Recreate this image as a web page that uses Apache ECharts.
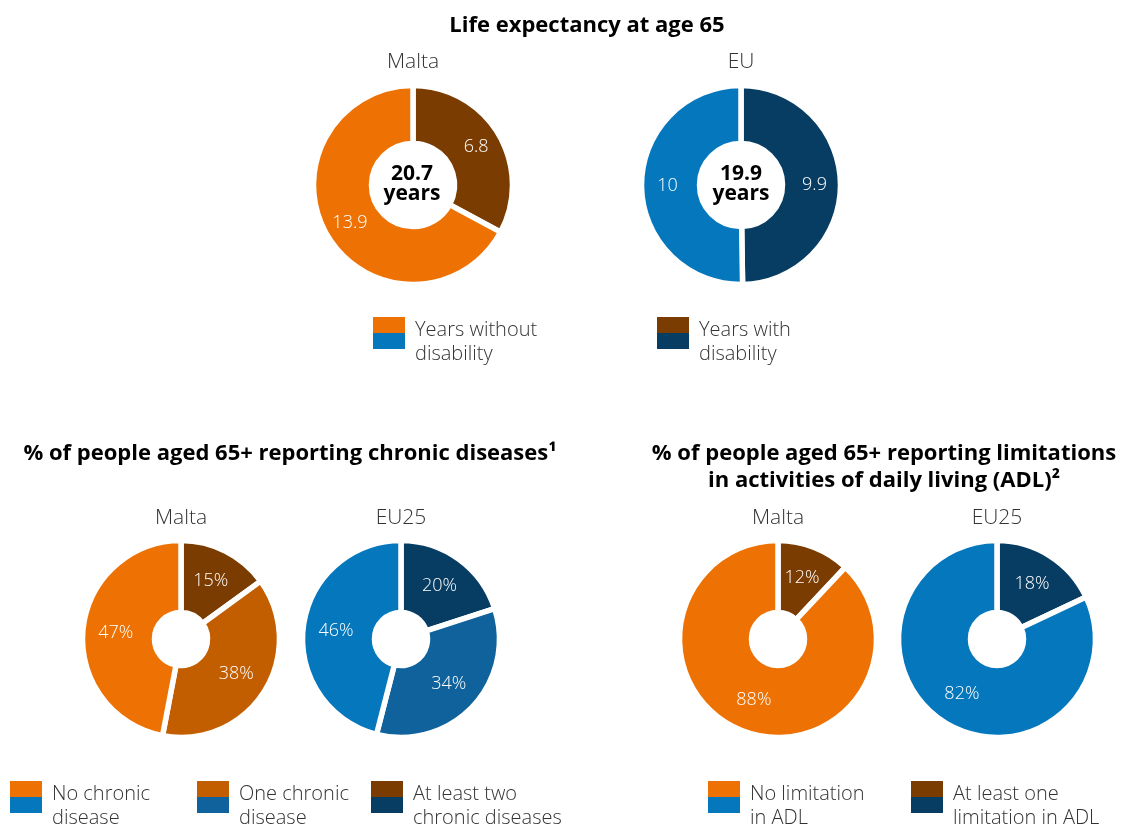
<!DOCTYPE html>
<html><head><meta charset="utf-8">
<script src="https://cdn.jsdelivr.net/npm/echarts@6/dist/echarts.min.js"></script>
<style>html,body{margin:0;padding:0;background:#fff}#c{width:1124px;height:825px}</style>
</head><body><div id="c"></div>
<script>
// ---- data ----
const lifeCategories = ['Years with disability', 'Years without disability'];
const lifeMalta = [6.8, 13.9];
const lifeEU = [9.9, 10];
const chronicCategories = ['At least two chronic diseases', 'One chronic disease', 'No chronic disease'];
const chronicMalta = [15, 38, 47];
const chronicEU25 = [20, 34, 46];
const adlCategories = ['At least one limitation in ADL', 'No limitation in ADL'];
const adlMalta = [12, 88];
const adlEU25 = [18, 82];

const ORANGE = '#EE7203', BROWN = '#7A3C00', MIDOR = '#C25E00';
const BLUE = '#0577BD', NAVY = '#083D63', MIDBL = '#0F629C';
const FONT = '"Open Sans", sans-serif';

function pie(cats, vals, colors, center, radius, fmt) {
  return {
    type: 'pie', center: center, radius: radius, startAngle: 90, clockwise: true,
    silent: true, animation: false,
    itemStyle: { borderColor: '#fff', borderWidth: 5.5 },
    label: { show: true, position: 'inside', color: '#fff', fontFamily: FONT, fontSize: 18, fontWeight: 300, formatter: fmt },
    labelLine: { show: false },
    data: cats.map((c, i) => ({ name: c, value: vals[i], itemStyle: { color: colors[i] } }))
  };
}
const sum = a => a.reduce((s, v) => s + v, 0);

const bigR = [41.5, 99.5];
const smallR = [26.5, 98.5];

const titleText = (t, x, y, opts) => Object.assign({
  text: t, left: x, top: y, textAlign: 'center', padding: 0,
  textStyle: { fontFamily: FONT, fontSize: 21, fontWeight: 300, color: '#333' }
}, opts || {});

const boldTitle = (t, x, y) => titleText(t, x, y, {
  textStyle: { fontFamily: FONT, fontSize: 22, fontWeight: 'bold', color: '#000', lineHeight: 27 }
});

const centerStyle = { textStyle: { fontFamily: FONT, fontSize: 21, fontWeight: 'bold', color: '#000', lineHeight: 20 } };

function legendItem(x, y, top, bottom, text) {
  return [
    { type: 'rect', shape: { x: x, y: y, width: 32, height: 16 }, style: { fill: top }, silent: true },
    { type: 'rect', shape: { x: x, y: y + 16, width: 32, height: 16 }, style: { fill: bottom }, silent: true },
    { type: 'text', x: x + 42, y: y + 1.5, style: { text: text, fill: '#333', font: '300 20px ' + FONT, lineHeight: 24 }, silent: true }
  ];
}

const option = {
  backgroundColor: '#fff',
  animation: false,
  title: [
    boldTitle('Life expectancy at age 65', 587, 12),
    titleText('Malta', 413, 52),
    titleText('EU', 741, 52),
    boldTitle('% of people aged 65+ reporting chronic diseases¹', 290, 440),
    boldTitle('% of people aged 65+ reporting limitations\nin activities of daily living (ADL)²', 884, 440),
    titleText('Malta', 181, 508),
    titleText('EU25', 401, 508),
    titleText('Malta', 778, 508),
    titleText('EU25', 997, 508),
    titleText(sum(lifeMalta).toFixed(1) + '\nyears', 412, 164, centerStyle),
    titleText(sum(lifeEU).toFixed(1) + '\nyears', 741, 164, centerStyle)
  ],
  series: [
    pie(lifeCategories, lifeMalta, [BROWN, ORANGE], [413, 185], bigR, '{c}'),
    pie(lifeCategories, lifeEU, [NAVY, BLUE], [741, 185], bigR, '{c}'),
    pie(chronicCategories, chronicMalta, [BROWN, MIDOR, ORANGE], [181, 639], smallR, '{c}%'),
    pie(chronicCategories, chronicEU25, [NAVY, MIDBL, BLUE], [401, 639], smallR, '{c}%'),
    pie(adlCategories, adlMalta, [BROWN, ORANGE], [778, 639], smallR, '{c}%'),
    pie(adlCategories, adlEU25, [NAVY, BLUE], [997, 639], smallR, '{c}%')
  ],
  graphic: [].concat(
    legendItem(373, 317, ORANGE, BLUE, 'Years without\ndisability'),
    legendItem(657, 317, BROWN, NAVY, 'Years with\ndisability'),
    legendItem(10, 781, ORANGE, BLUE, 'No chronic\ndisease'),
    legendItem(197, 781, MIDOR, MIDBL, 'One chronic\ndisease'),
    legendItem(371, 781, BROWN, NAVY, 'At least two\nchronic diseases'),
    legendItem(708, 781, ORANGE, BLUE, 'No limitation\nin ADL'),
    legendItem(911, 781, BROWN, NAVY, 'At least one\nlimitation in ADL')
  )
};
const chart = echarts.init(document.getElementById('c'), null, { renderer: 'canvas' });
chart.setOption(option);
</script></body></html>
